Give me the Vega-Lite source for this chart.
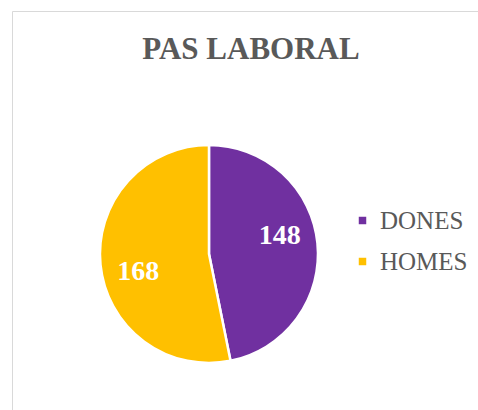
{
  "$schema": "https://vega.github.io/schema/vega-lite/v6.json",
  "width": 466,
  "height": 399,
  "autosize": {"type": "none"},
  "padding": {"left": 12, "top": 11, "right": 0, "bottom": 0},
  "background": "white",
  "config": {"view": {"stroke": "#D9D9D9", "strokeWidth": 1}},
  "title": {
    "text": "PAS LABORAL",
    "font": "Liberation Serif",
    "fontSize": 31,
    "fontWeight": "bold",
    "color": "#595959",
    "anchor": "middle",
    "baseline": "alphabetic",
    "offset": -79,
    "dx": 6
  },
  "data": {"values": [{"sexe": "DONES", "n": 148}, {"sexe": "HOMES", "n": 168}]},
  "encoding": {
    "theta": {"field": "n", "type": "quantitative", "stack": true},
    "order": {"field": "sexe", "type": "ordinal"},
    "x": {"datum": 0.4227, "type": "quantitative", "scale": {"domain": [0, 1]}, "axis": null},
    "y": {"datum": 0.609, "type": "quantitative", "scale": {"domain": [0, 1], "reverse": true}, "axis": null}
  },
  "layer": [
    {
      "mark": {"type": "arc", "radius": 109, "stroke": "white", "strokeWidth": 2.5},
      "encoding": {
        "color": {
          "field": "sexe",
          "type": "nominal",
          "scale": {"domain": ["DONES", "HOMES"], "range": ["#7030A0", "#FFC000"]},
          "legend": {
            "title": null,
            "orient": "none",
            "legendX": 338,
            "legendY": 197,
            "symbolType": "square",
            "symbolSize": 56,
            "symbolStrokeWidth": 0,
            "labelFont": "Liberation Serif",
            "labelFontSize": 25,
            "labelColor": "#595959",
            "labelOffset": 5,
            "rowPadding": 15,
            "padding": 0
          }
        }
      }
    },
    {
      "mark": {
        "type": "text",
        "radius": 73,
        "thetaOffset": -0.154,
        "font": "Liberation Serif",
        "fontSize": 28,
        "fontWeight": "bold",
        "fill": "white"
      },
      "encoding": {
        "text": {"field": "n", "type": "quantitative"},
        "detail": {"field": "sexe", "type": "nominal"}
      }
    }
  ]
}
